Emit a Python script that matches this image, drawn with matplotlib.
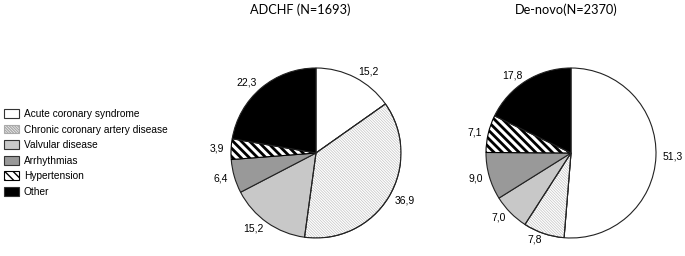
"""
Aetiology of heart failure: ADCHF vs de-novo patients, two pie charts
with a shared legend on the left.
"""
import matplotlib
matplotlib.use("Agg")
import matplotlib.pyplot as plt
from matplotlib.patches import Patch, Wedge

categories = ["Acute coronary syndrome", "Chronic coronary artery disease",
              "Valvular disease", "Arrhythmias", "Hypertension", "Other"]
adchf_vals = [15.2, 36.9, 15.2, 6.4, 3.9, 22.3]
denovo_vals = [51.3, 7.8, 7.0, 9.0, 7.1, 17.8]
adchf_title = "ADCHF (N=1693)"
denovo_title = "De-novo(N=2370)"

FACES = ["white", "white", "#c8c8c8", "#999999", "white", "black"]
HATCH_FINE = "\\" * 12   # thin grey lines (chronic CAD)
HATCH_BOLD = "\\" * 4    # thick black stripes (hypertension)

W, H = 685, 256
plt.rcParams["font.family"] = ["Liberation Sans", "DejaVu Sans"]


def fmt(v):
    return f"{v:.1f}".replace(".", ",")


def set_hatch_lw(p, lw):
    if hasattr(p, "set_hatch_linewidth"):
        p.set_hatch_linewidth(lw)


def draw_pie(ax, vals):
    wedges, texts = ax.pie(vals, labels=[fmt(v) for v in vals], startangle=90,
                           counterclock=False, colors=FACES, radius=1,
                           labeldistance=1.08,
                           wedgeprops=dict(edgecolor="#222222", linewidth=0.8),
                           textprops=dict(fontsize=7.5))
    # chronic CAD: light grey fine hatch drawn as an overlay
    w = wedges[1]
    over = Wedge(w.center, w.r, w.theta1, w.theta2, facecolor="none",
                 edgecolor="#c4c4c4", linewidth=0, hatch=HATCH_FINE, zorder=w.zorder)
    set_hatch_lw(over, 0.5)
    ax.add_patch(over)
    # hypertension: bold black stripes
    wedges[4].set_hatch(HATCH_BOLD)
    wedges[4].set_edgecolor("black")
    set_hatch_lw(wedges[4], 2.0)
    # redraw outline on top of the overlay
    ax.add_patch(Wedge(w.center, w.r, w.theta1, w.theta2, facecolor="none",
                       edgecolor="#222222", linewidth=0.8, zorder=w.zorder + 0.1))
    ax.set_xlim(-1, 1)
    ax.set_ylim(-1, 1)
    ax.set_aspect("equal")
    ax.axis("off")


def pie_axes(fig, cx, cy, r):
    return fig.add_axes([(cx - r) / W, (H - cy - r) / H, 2 * r / W, 2 * r / H])


fig = plt.figure(figsize=(W / 100, H / 100), dpi=100)

ax1 = pie_axes(fig, 316, 153, 85)
draw_pie(ax1, adchf_vals)
ax2 = pie_axes(fig, 571, 153, 85)
draw_pie(ax2, denovo_vals)

fig.text(300 / W, 1 - 10 / H, adchf_title, ha="center", va="center",
         fontsize=9.2, family=["Lato", "DejaVu Sans"])
fig.text(566 / W, 1 - 10 / H, denovo_title, ha="center", va="center",
         fontsize=9.2, family=["Lato", "DejaVu Sans"])

handles = []
for i, (lab, fc) in enumerate(zip(categories, FACES)):
    if i == 1:
        p = Patch(facecolor="white", edgecolor="#aaaaaa", hatch=HATCH_FINE, linewidth=0.8, label=lab)
        set_hatch_lw(p, 0.5)
    elif i == 4:
        p = Patch(facecolor="white", edgecolor="black", hatch=HATCH_BOLD, linewidth=0.8, label=lab)
        set_hatch_lw(p, 2.0)
    else:
        p = Patch(facecolor=fc, edgecolor="#333333", linewidth=0.8, label=lab)
    handles.append(p)

fig.legend(handles=handles, loc="upper left", bbox_to_anchor=(2 / W, 1 - 107 / H),
           frameon=False, fontsize=7.3, handlelength=1.5, handleheight=0.95,
           handletextpad=0.45, labelspacing=0.55, borderaxespad=0, borderpad=0.2)

fig.savefig("out.png", dpi=100)
